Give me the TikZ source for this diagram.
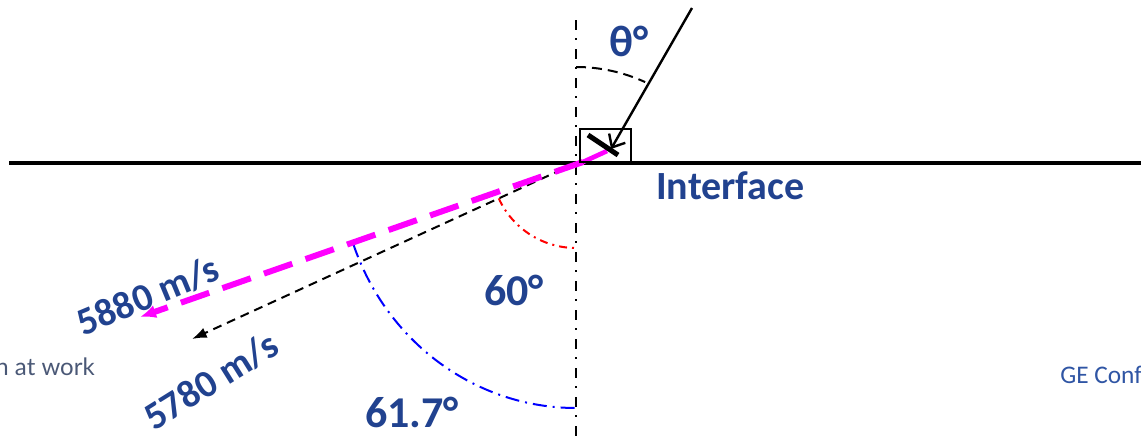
\documentclass[tikz,border=0pt]{standalone}
\usepackage{fontspec}
\setmainfont{Carlito}
\newfontfamily\footfont{Lato}
\usetikzlibrary{arrows.meta}
\definecolor{geblue}{RGB}{33,66,143}
\definecolor{footgray}{RGB}{74,88,118}
\definecolor{footblue}{RGB}{47,85,164}
\definecolor{mag}{RGB}{255,0,255}
\begin{document}
\begin{tikzpicture}[x=0.75pt,y=0.75pt,
  lbl/.style={text=geblue,font=\bfseries\fontsize{33}{36}\selectfont,inner sep=0pt},
  vlbl/.style={text=geblue,font=\bfseries\fontsize{29}{32}\selectfont,inner sep=0pt},
  axisline/.style={line width=1.5pt,dash pattern=on 7.5pt off 6pt on 1.5pt off 6.75pt},
  blkdash/.style={line width=1.5pt,dash pattern=on 6.75pt off 4.5pt},
  magdash/.style={mag,line width=4.5pt,dash pattern=on 22.5pt off 10.5pt},
  bluearc/.style={blue,line width=1.5pt,dash pattern=on 10.5pt off 4.5pt on 1.5pt off 4.5pt},
  redarc/.style={red,line width=1.5pt,dash pattern=on 6pt off 3.75pt on 1.5pt off 3.75pt},
  thetaarc/.style={line width=1.5pt,dash pattern=on 7.5pt off 4.5pt}]
\useasboundingbox (0,0) rectangle (1141,444);
% named points
\coordinate (O) at (576,281);
\coordinate (ifL) at (9,281);
\coordinate (ifR) at (1141,281);
\coordinate (axT) at (576,424);
\coordinate (axB) at (576,0);
\coordinate (incS) at (692,436);
\coordinate (incT) at (611,295);
\coordinate (magS) at (583,282);
\coordinate (magE) at (607,293);
\coordinate (magT) at (140,127);
\coordinate (blkT) at (192,105);
\coordinate (barA) at (588,309);
\coordinate (barB) at (618,289);
% interface and normal
\draw[line width=3pt] (ifL) -- (ifR);
\draw[axisline] (axT) -- (axB);
% angle arcs
\draw[redarc] (O) ++(204.6:85) arc[start angle=204.6,end angle=270,radius=85];
\draw[bluearc] (O) ++(199.3:236 and 245) arc[start angle=199.3,end angle=270,x radius=236,y radius=245];
\draw[thetaarc] (576,377) arc[start angle=90,end angle=65.4,radius=166];
% refracted beams
\draw[blkdash,-{Latex[length=11pt,width=8pt]}] (O) -- (blkT);
\draw[magdash,-{Latex[length=12pt,width=10pt]}] (magS) -- (magT);
\draw[mag,line width=3.5pt] (magS) -- (magE);
% probe box
\node[draw,line width=1.5pt,minimum width=38.25pt,minimum height=24.75pt,inner sep=0pt,anchor=south west] (probe) at (579,281) {};
\draw[line width=3.75pt] (barA) -- (barB);
% incident beam
\draw[line width=1.8pt,-{Straight Barb[length=8pt,width=14pt]}] (incS) -- (incT);
% labels
\node[lbl,anchor=base] (theta) at (629,388) {θ°};
\node[lbl,font=\bfseries\fontsize{30}{33}\selectfont,anchor=base west] (iface) at (656,245) {Interface};
\node[lbl,anchor=base] (a60) at (514,139) {60°};
\node[lbl,anchor=base] (a617) at (412,17) {61.7°};
\node[vlbl,rotate=22.5] (v1) at (148,148) {5880 m/s};
\node[vlbl,rotate=32] (v2) at (211,63) {5780 m/s};
\node[anchor=base east,inner sep=0pt,text=footgray,font=\footfont\fontsize{18}{20}\selectfont] (foot1) at (95,69) {n at work};
\node[anchor=base west,inner sep=0pt,text=footblue,font=\fontsize{19}{21}\selectfont] (foot2) at (1060,61) {GE Conf};
\end{tikzpicture}
\end{document}
